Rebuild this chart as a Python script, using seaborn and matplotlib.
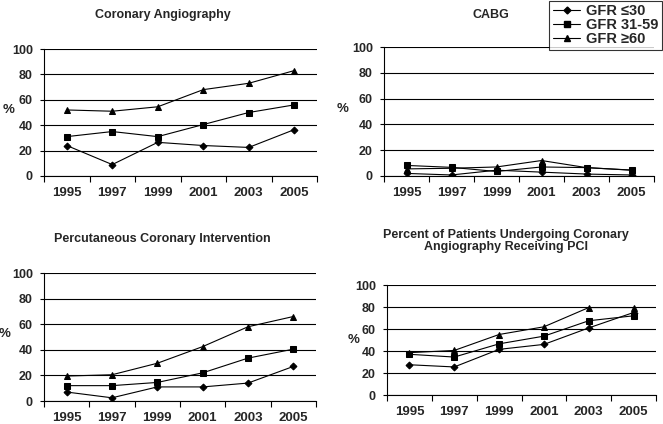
import pandas as pd
import numpy as np
import seaborn as sns
import matplotlib.pyplot as plt
from matplotlib.lines import Line2D

# data
years = [1995, 1997, 1999, 2001, 2003, 2005]
groups = ['GFR \u226430', 'GFR 31-59', 'GFR \u226560']

angio_le30 = [24, 9, 26.5, 24, 22.5, 36.5]
angio_31_59 = [31, 35, 31, 40.5, 50, 56]
angio_ge60 = [52, 51, 54.5, 68, 73, 83]

cabg_le30 = [2, 0.8, 4.5, 3, 1.5, 0.8]
cabg_31_59 = [8.2, 6.7, 3.5, 7, 6.5, 4.6]
cabg_ge60 = [5.5, 6, 7, 12, 6.5, 4.5]

pci_le30 = [7, 2.5, 11, 11, 14, 27]
pci_31_59 = [12, 12, 14.5, 22, 33.5, 40.5]
pci_ge60 = [19.5, 20.5, 29.5, 42.5, 58, 66]

pct_le30 = [27.5, 25.5, 41.5, 46, 61, 75]
pct_31_59 = [37, 34.5, 46.5, 53.5, 67.5, 72]
pct_ge60 = [38.5, 40.5, 55, 62, 79.5, 79.5]

titles = ['Coronary Angiography', 'CABG', 'Percutaneous Coronary Intervention',
          'Percent of Patients Undergoing Coronary\nAngiography Receiving PCI']

sns.set_style('white')
plt.rcParams['font.family'] = ['Liberation Sans', 'DejaVu Sans']
plt.rcParams['font.weight'] = 'bold'


def make_frame(a, b, c):
    rows = []
    for g, vals in zip(groups, [a, b, c]):
        for y, v in zip(years, vals):
            rows.append({'Year': y, 'Pct': v, 'Group': g})
    return pd.DataFrame(rows)


panels = [make_frame(angio_le30, angio_31_59, angio_ge60),
          make_frame(cabg_le30, cabg_31_59, cabg_ge60),
          make_frame(pci_le30, pci_31_59, pci_ge60),
          make_frame(pct_le30, pct_31_59, pct_ge60)]

W, H = 663, 424
# axes boxes in pixels: left, top, right, bottom
boxes = [(44, 49, 317, 176), (384, 47, 654, 176),
         (44, 273, 316, 401), (387, 285, 656, 395)]
title_pos = [(163, 15), (491, 15), (162, 239), (506, 241)]
pct_pos = [(9, 110), (343, 109), (5, 334), (354, 340)]

marker_map = {groups[0]: 'D', groups[1]: 's', groups[2]: '^'}
marker_size = {groups[0]: 3.5, groups[1]: 5, groups[2]: 5}

fig = plt.figure(figsize=(W / 100, H / 100), dpi=100)

for df, box, ttl, tp, pp in zip(panels, boxes, titles, title_pos, pct_pos):
    l, t, r, b = box
    ax = fig.add_axes([l / W, 1 - b / H, (r - l) / W, (b - t) / H])
    for g in groups:
        sub = df[df['Group'] == g]
        sns.lineplot(data=sub, x='Year', y='Pct', ax=ax, color='black',
                     marker=marker_map[g], markersize=marker_size[g],
                     markeredgecolor='black', linewidth=0.8, legend=False)
    ax.set_xlim(1994, 2006)
    ax.set_ylim(0, 100)
    ax.set_xticks(years)
    ax.set_xticks(np.arange(1994, 2007, 2), minor=True)
    ax.set_yticks([0, 20, 40, 60, 80, 100])
    ax.yaxis.grid(True, color='black', linewidth=0.8)
    ax.set_axisbelow(True)
    ax.tick_params(axis='x', which='major', length=0, pad=8, labelsize=9.5)
    ax.tick_params(axis='x', which='minor', length=4, width=0.8,
                   color='black', direction='out', bottom=True)
    ax.tick_params(axis='y', length=3, width=0.8, color='black',
                   direction='out', left=True, pad=5, labelsize=9)
    for lab in ax.get_xticklabels() + ax.get_yticklabels():
        lab.set_fontweight('bold')
    for side in ['top', 'right']:
        ax.spines[side].set_visible(False)
    for side in ['left', 'bottom']:
        ax.spines[side].set_color('black')
        ax.spines[side].set_linewidth(0.8)
    ax.set_xlabel('')
    ax.set_ylabel('')
    fig.text(tp[0] / W, 1 - tp[1] / H, ttl, ha='center', va='center',
             fontsize=9, fontweight='bold', linespacing=1.1)
    fig.text(pp[0] / W, 1 - pp[1] / H, '%', ha='center', va='center',
             fontsize=9.5, fontweight='bold')

handles = [Line2D([], [], color='black', linewidth=0.8, marker=marker_map[g],
                  markersize=marker_size[g]) for g in groups]
leg = fig.legend(handles, groups, loc='upper right', bbox_to_anchor=(1.0, 1.0),
                 frameon=True, fancybox=False, fontsize=10.5, handlelength=1.9,
                 borderpad=0.25, labelspacing=0.0, handletextpad=0.4,
                 borderaxespad=0.05)
leg.get_frame().set_edgecolor('black')
leg.get_frame().set_linewidth(0.8)
for txt in leg.get_texts():
    txt.set_fontweight('bold')

fig.savefig('out.png', dpi=100, facecolor='white')
